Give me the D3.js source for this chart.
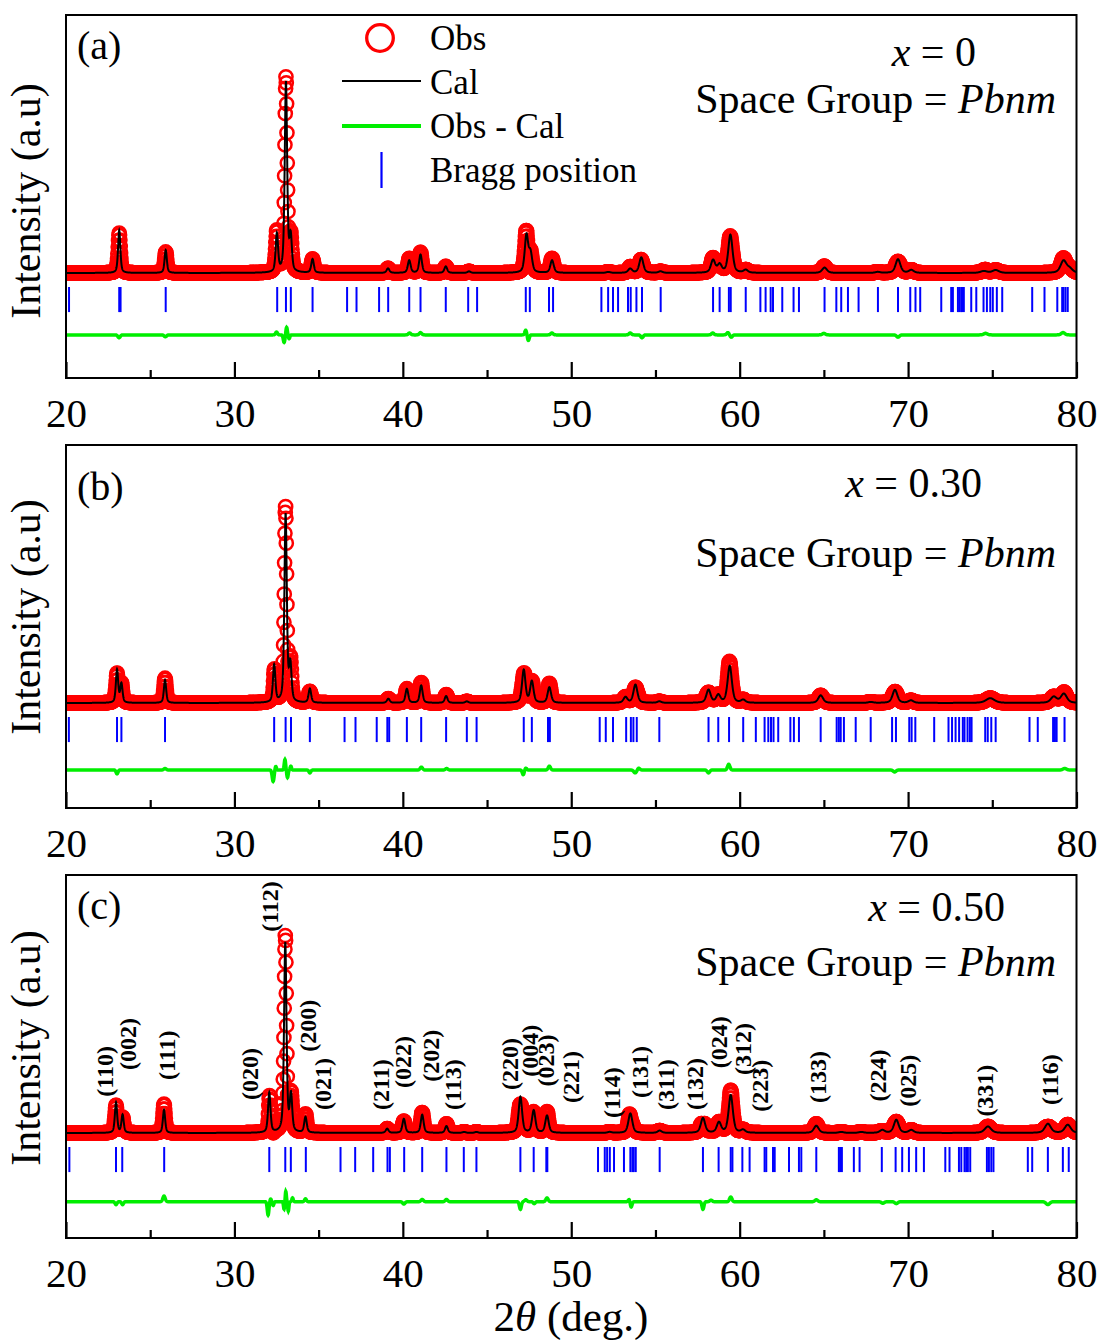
<!DOCTYPE html>
<html>
<head>
<meta charset="utf-8">
<script src="https://cdn.jsdelivr.net/npm/d3@7"></script>
<style>
    body { margin: 0; background: #fff; }
    svg text { font-family: "Liberation Serif", "Times New Roman", serif; fill: #000; }
</style>
</head>
<body>
<svg id="chart" width="1101" height="1340"></svg>
<script>
/* ========================================
   Rietveld refinement plots, x = 0 / 0.30 / 0.50
   ======================================== */

// --- Axis / labels ---
const majorTicks = [20, 30, 40, 50, 60, 70, 80];
const minorTicks = [25, 35, 45, 55, 65, 75];
const panelLetters = ['(a)', '(b)', '(c)'];
const compositions = ['0', '0.30', '0.50'];
const spaceGroup = 'Pbnm';
const legendLabels = ['Obs', 'Cal', 'Obs - Cal', 'Bragg position'];

// --- Refined peaks: [2θ, relative intensity (main = 100), FWHM] ---
const peaksA = [
    [23.16, 22.5, 0.16], [25.92, 12, 0.16], [32.52, 20, 0.17], [33.06, 100, 0.17],
    [33.34, 18, 0.17], [34.64, 7.2, 0.18], [39.12, 2.4, 0.2], [40.38, 6.6, 0.2],
    [41.05, 9.6, 0.2], [42.55, 3.4, 0.2], [43.93, 0.8, 0.22], [47.34, 19.5, 0.24],
    [47.58, 10, 0.24], [48.86, 6.6, 0.24], [52.2, 0.5, 0.28], [53.5, 2.2, 0.28],
    [54.16, 8.2, 0.28], [55.3, 0.8, 0.28], [58.42, 6.6, 0.3], [58.81, 4.2, 0.3],
    [59.45, 20, 0.3], [60.36, 1.5, 0.3], [65.04, 2.8, 0.34], [68.2, 0.5, 0.34],
    [69.4, 7.2, 0.34], [70.19, 1.5, 0.34], [74.5, 1, 0.45], [75.2, 1.5, 0.45],
    [79.23, 6.4, 0.42], [79.6, 2, 0.4]
];
const peaksB = [
    [23.03, 17.4, 0.16], [23.29, 10, 0.16], [25.88, 12.2, 0.16], [32.36, 19.6, 0.17],
    [33.04, 99, 0.17], [33.32, 19, 0.17], [34.48, 7.4, 0.18], [39.14, 2.2, 0.2],
    [40.24, 7.4, 0.2], [41.09, 9.2, 0.2], [42.57, 3.6, 0.2], [43.8, 0.8, 0.22],
    [47.18, 17.3, 0.24], [47.66, 11.2, 0.24], [48.7, 8.2, 0.24], [53.22, 3, 0.28],
    [53.81, 9.6, 0.28], [55.23, 0.8, 0.28], [58.15, 6.8, 0.3], [58.73, 4, 0.3],
    [59.41, 19.4, 0.3], [60.21, 1.5, 0.3], [64.81, 4, 0.34], [67.78, 0.5, 0.34],
    [69.22, 6.9, 0.34], [70.17, 1.3, 0.34], [74.88, 2.5, 0.6], [78.65, 3.2, 0.42],
    [79.25, 4.8, 0.42]
];
const peaksC = [
    [22.97, 16, 0.16], [23.36, 9.5, 0.16], [25.82, 12.2, 0.16], [32.07, 21, 0.17],
    [33.02, 100, 0.17], [33.36, 19, 0.17], [34.22, 8.2, 0.18], [39.07, 2.2, 0.2],
    [40.06, 7.4, 0.2], [41.15, 9.6, 0.2], [42.59, 3.6, 0.2], [43.64, 0.5, 0.22],
    [44.37, 0.5, 0.22], [46.98, 19, 0.24], [47.77, 11.7, 0.24], [48.56, 9.1, 0.24],
    [52.28, 0.5, 0.28], [53.51, 10.3, 0.28], [55.25, 1.2, 0.28], [57.82, 7.8, 0.3],
    [58.77, 5.4, 0.3], [59.47, 19.8, 0.3], [60.2, 1.5, 0.3], [64.55, 3.8, 0.34],
    [66.03, 0.5, 0.34], [67.22, 0.5, 0.34], [68.47, 1.5, 0.34], [69.3, 6.9, 0.34],
    [70.19, 1.5, 0.34], [74.74, 3.4, 0.45], [78.3, 4.8, 0.42], [79.48, 4.3, 0.42]
];

// --- Obs - Cal features: [2θ, amplitude, width] ---
const diffA = [
    [23.15, -1.5, 0.1], [25.9, -1, 0.1], [32.5, 1.5, 0.08], [32.95, -4, 0.07],
    [33.1, 4, 0.06], [33.25, -2, 0.06], [40.4, 1, 0.1], [41.05, 1.2, 0.1],
    [47.3, 2.5, 0.08], [47.45, -3, 0.08], [48.85, 1, 0.1], [53.5, 1, 0.1],
    [54.2, -1.5, 0.1], [58.4, 1, 0.1], [59.3, 1.2, 0.1], [59.5, -1.2, 0.1],
    [65.0, 0.8, 0.12], [69.4, -1.2, 0.12], [74.6, 0.8, 0.15], [79.2, 1.2, 0.15]
];
const diffB = [
    [23.03, -2, 0.08], [25.88, 0.8, 0.1], [32.3, -6, 0.08], [32.45, 2, 0.06],
    [33.0, 5.5, 0.06], [33.15, -4, 0.06], [33.35, 2, 0.06], [34.48, -1.5, 0.08],
    [41.1, 1.5, 0.1], [42.6, 0.8, 0.1], [47.15, -2.5, 0.08], [47.3, 1, 0.08],
    [48.7, 2, 0.1], [53.8, -1.5, 0.12], [54.0, 1, 0.1], [58.15, -1.5, 0.1],
    [59.35, 3, 0.1], [69.2, -1, 0.12], [79.3, 0.8, 0.15]
];
const diffC = [
    [22.97, -1.5, 0.08], [23.36, -1.5, 0.08], [25.82, 3, 0.1], [32.0, -7, 0.07],
    [32.15, 1.5, 0.06], [32.3, -2, 0.06], [32.95, -4, 0.05], [33.05, 5.5, 0.05],
    [33.2, -5, 0.05], [33.45, 2, 0.06], [34.22, 1.5, 0.08], [40.06, -1.2, 0.1],
    [41.15, 1.2, 0.1], [42.59, 1.2, 0.1], [46.98, -4, 0.08], [47.3, 1, 0.1],
    [47.8, -1, 0.08], [48.56, 2, 0.1], [53.45, 1.5, 0.08], [53.55, -3, 0.08],
    [57.82, -4, 0.08], [58.3, 0.8, 0.1], [59.47, 2.5, 0.1], [64.55, 1, 0.12],
    [68.5, -0.8, 0.12], [69.3, -1, 0.12], [78.3, -1.5, 0.15]
];

// --- Bragg reflection positions (2θ) ---
const braggA = [
    20.18, 23.16, 23.24, 25.92, 32.54, 33.06, 33.35, 34.64, 36.69, 37.25, 38.59, 39.13,
    40.38, 41.05, 42.55, 43.88, 44.41, 47.30, 47.54, 48.68, 48.92, 51.79, 52.19, 52.48,
    52.78, 53.37, 53.53, 53.87, 54.2, 55.31, 58.42, 58.81, 59.36, 59.47, 60.36, 61.23,
    61.54, 61.84, 61.98, 62.53, 63.2, 63.52, 65.04, 65.74, 66.03, 66.43, 67.06, 68.21,
    69.4, 70.13, 70.44, 70.72, 71.97, 72.56, 72.66, 72.96, 73.06, 73.16, 73.22, 73.31,
    73.75, 74.05, 74.48, 74.68, 74.88, 75.03, 75.27, 75.59, 77.37, 78.1, 78.86, 79.15,
    79.23, 79.35, 79.48
];
const braggB = [
    20.17, 23.03, 23.29, 25.88, 32.36, 33.04, 33.36, 34.48, 36.54, 37.19, 38.45, 39.08,
    39.19, 40.24, 41.09, 42.57, 43.8, 44.38, 47.18, 47.66, 48.62, 48.73, 51.69, 52.05,
    52.48, 53.26, 53.54, 53.69, 53.89, 55.23, 58.15, 58.73, 59.37, 60.21, 60.96, 61.48,
    61.7, 61.86, 62.01, 62.29, 63.01, 63.22, 63.52, 64.81, 65.76, 65.89, 66.0, 66.19,
    66.89, 67.78, 69.05, 69.28, 70.07, 70.21, 70.43, 71.55, 72.4, 72.61, 72.82, 73.03,
    73.25, 73.35, 73.53, 73.67, 73.77, 74.58, 74.73, 74.94, 75.2, 77.21, 77.7, 78.61,
    78.72, 78.82, 79.29
];
const braggC = [
    20.2, 22.97, 23.34, 25.83, 32.07, 33.02, 33.35, 34.24, 36.3, 37.17, 38.24, 39.09,
    39.23, 40.08, 41.15, 42.59, 43.62, 44.37, 46.98, 47.77, 48.52, 48.58, 51.59, 51.99,
    52.13, 52.29, 52.54, 53.13, 53.51, 53.63, 53.71, 53.83, 55.25, 57.82, 58.75, 59.47,
    59.57, 60.16, 60.59, 61.48, 61.58, 61.98, 62.08, 62.93, 63.52, 63.66, 64.55, 65.89,
    65.97, 66.07, 66.78, 67.12, 68.44, 69.26, 69.65, 70.05, 70.48, 70.94, 72.21, 72.46,
    73.02, 73.16, 73.35, 73.45, 73.55, 73.69, 74.68, 74.8, 74.94, 75.07, 77.11, 77.37,
    78.3, 79.19, 79.54
];

// --- (hkl) labels of panel (c): text, 2θ, intensity level of label foot ---
const hklText = ['(110)', '(002)', '(111)', '(020)', '(112)', '(200)', '(021)', '(211)', '(022)',
    '(202)', '(113)', '(220)', '(004)', '(023)', '(221)', '(114)', '(131)', '(311)', '(132)',
    '(024)', '(312)', '(223)', '(133)', '(224)', '(025)', '(331)', '(116)'];
const hklPos = [22.31, 23.70, 26.01, 30.92, 32.11, 34.38, 35.27, 38.68, 40.02, 41.70, 42.99,
    46.35, 47.54, 48.53, 50.01, 52.39, 54.07, 55.61, 57.33, 58.77, 60.20, 61.19, 64.65,
    68.21, 69.99, 74.54, 78.40];
const hklLevel = [19.1, 33.2, 27.9, 17.4, 105.9, 42.8, 12.1, 12.1, 23.7, 27.0, 12.1, 22.6,
    29.6, 24.4, 15.8, 7.9, 18.4, 12.1, 12.1, 34.1, 30.5, 11.2, 15.8, 16.5, 13.8, 8.6, 14.7];

// --- Layout ---
const W = 1101;
const margin = { left: 66, right: 24 };
const panelH = 363;
const panels = [
    { top: 15, peaks: peaksA, diff: diffA, bragg: braggA, diffOffset: -32.6,
      letterY: 59, compY: 66, compX: 976, sgY: 113, ylabY: 201 },
    { top: 445, peaks: peaksB, diff: diffB, bragg: braggB, diffOffset: -35.3,
      letterY: 500, compY: 497, compX: 982, sgY: 567, ylabY: 617 },
    { top: 875, peaks: peaksC, diff: diffC, bragg: braggC, diffOffset: -36.2,
      letterY: 919, compY: 921, compX: 1005, sgY: 976, ylabY: 1048 }
];
const yDomain = [-55.3, 135.8];
const braggSpan = [-7.4, -20.6];

const svg = d3.select('#chart');

const x = d3.scaleLinear().domain([20, 80]).range([margin.left, W - margin.right - 0.5]);

// Pseudo-Voigt profile of the refined reflections
function profile(peaks, t) {
    let s = 0;
    peaks.forEach(([p, h, f]) => {
        const u = (t - p) / (f / 2);
        s += h * (0.5 / (1 + u * u) + 0.5 * Math.exp(-Math.LN2 * u * u));
    });
    return s;
}
function residual(diffs, t) {
    let s = 0;
    diffs.forEach(([p, a, w]) => {
        const u = (t - p) / w;
        s += a * Math.exp(-u * u);
    });
    return s;
}

const gridObs = d3.range(20, 80.001, 0.02);
const gridCal = d3.range(20, 80.001, 0.01);

panels.forEach((pn, i) => {
    const y = d3.scaleLinear().domain(yDomain).range([pn.top + panelH, pn.top]);
    const g = svg.append('g').attr('class', 'panel');

    const clipId = 'clip' + i;
    svg.append('clipPath').attr('id', clipId)
        .append('rect')
        .attr('x', x(20)).attr('y', pn.top)
        .attr('width', x(80) - x(20)).attr('height', panelH);

    const plot = g.append('g').attr('clip-path', `url(#${clipId})`);

    // Obs
    plot.append('g')
        .selectAll('circle')
        .data(gridObs)
        .join('circle')
        .attr('cx', t => x(t))
        .attr('cy', t => y(profile(pn.peaks, t) + residual(pn.diff, t)))
        .attr('r', 6.6)
        .attr('fill', 'none')
        .attr('stroke', '#ff0000')
        .attr('stroke-width', 2.5);

    // Cal
    const calLine = d3.line()
        .x(t => x(t))
        .y(t => y(profile(pn.peaks, t)));
    plot.append('path')
        .datum(gridCal)
        .attr('d', calLine)
        .attr('fill', 'none')
        .attr('stroke', '#000')
        .attr('stroke-width', 2);

    // Bragg positions
    plot.append('g')
        .selectAll('line')
        .data(pn.bragg)
        .join('line')
        .attr('x1', d => x(d)).attr('x2', d => x(d))
        .attr('y1', y(braggSpan[0])).attr('y2', y(braggSpan[1]))
        .attr('stroke', '#0000ff')
        .attr('stroke-width', 2);

    // Obs - Cal
    const diffLine = d3.line()
        .x(t => x(t))
        .y(t => y(pn.diffOffset + residual(pn.diff, t)));
    plot.append('path')
        .datum(gridCal)
        .attr('d', diffLine)
        .attr('fill', 'none')
        .attr('stroke', '#00ee00')
        .attr('stroke-width', 3.5);

    // Frame
    g.append('rect')
        .attr('x', x(20)).attr('y', pn.top)
        .attr('width', x(80) - x(20)).attr('height', panelH)
        .attr('fill', 'none')
        .attr('stroke', '#000')
        .attr('stroke-width', 2);

    // Bottom axis, ticks pointing inward
    const axisY = pn.top + panelH;
    const major = g.append('g')
        .attr('transform', `translate(0,${axisY})`)
        .call(d3.axisBottom(x).tickValues(majorTicks).tickSize(-16).tickPadding(20).tickFormat(d3.format('d')));
    major.select('.domain').remove();
    major.selectAll('line').attr('stroke-width', 2.2);
    major.selectAll('text')
        .style('font-family', '"Liberation Serif", "Times New Roman", serif')
        .style('font-size', '41px');

    const minor = g.append('g')
        .attr('transform', `translate(0,${axisY})`)
        .call(d3.axisBottom(x).tickValues(minorTicks).tickSize(-8).tickFormat(''));
    minor.select('.domain').remove();
    minor.selectAll('line').attr('stroke-width', 2.2);

    // Y axis title
    g.append('text')
        .attr('transform', `translate(40,${pn.ylabY}) rotate(-90)`)
        .attr('text-anchor', 'middle')
        .style('font-size', '42px')
        .text('Intensity (a.u)');

    // Panel letter
    g.append('text')
        .attr('x', 77).attr('y', pn.letterY)
        .style('font-size', '40px')
        .text(panelLetters[i]);

    // Composition and space group
    const comp = g.append('text')
        .attr('x', pn.compX).attr('y', pn.compY)
        .attr('text-anchor', 'end')
        .style('font-size', '42px');
    comp.append('tspan').style('font-style', 'italic').text('x');
    comp.append('tspan').text(' = ' + compositions[i]);

    const sg = g.append('text')
        .attr('x', 1056).attr('y', pn.sgY)
        .attr('text-anchor', 'end')
        .style('font-size', '42px');
    sg.append('tspan').text('Space Group = ');
    sg.append('tspan').style('font-style', 'italic').text(spaceGroup);

    // hkl indices on the last panel
    if (i === 2) {
        g.append('g')
            .selectAll('text')
            .data(hklText)
            .join('text')
            .attr('transform', (d, k) => `translate(${x(hklPos[k])},${y(hklLevel[k])}) rotate(-90)`)
            .attr('dominant-baseline', 'central')
            .style('font-size', '24px')
            .style('font-weight', 'bold')
            .text(d => d);
    }
});

// Legend (panel a)
const legend = svg.append('g').attr('class', 'legend');
legend.append('circle')
    .attr('cx', 380).attr('cy', 38).attr('r', 13.3)
    .attr('fill', 'none').attr('stroke', '#ff0000').attr('stroke-width', 3.3);
legend.append('line')
    .attr('x1', 342).attr('x2', 421).attr('y1', 81).attr('y2', 81)
    .attr('stroke', '#000').attr('stroke-width', 1.8);
legend.append('line')
    .attr('x1', 342).attr('x2', 421).attr('y1', 126).attr('y2', 126)
    .attr('stroke', '#00ee00').attr('stroke-width', 4);
legend.append('line')
    .attr('x1', 381.5).attr('x2', 381.5).attr('y1', 152).attr('y2', 188)
    .attr('stroke', '#0000ff').attr('stroke-width', 2.2);
legend.selectAll('text.lab')
    .data(legendLabels)
    .join('text')
    .attr('class', 'lab')
    .attr('x', 430)
    .attr('y', (d, k) => [50, 94, 138, 182][k])
    .style('font-size', '35px')
    .text(d => d);

// X axis title
const xt = svg.append('text')
    .attr('x', 571).attr('y', 1331)
    .attr('text-anchor', 'middle')
    .style('font-size', '43px');
xt.append('tspan').text('2');
xt.append('tspan').style('font-style', 'italic').text('θ');
xt.append('tspan').text(' (deg.)');
</script>
</body>
</html>
